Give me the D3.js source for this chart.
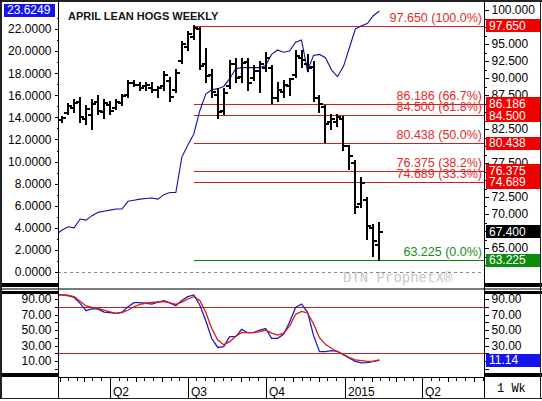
<!DOCTYPE html>
<html>
<head>
<meta charset="utf-8">
<script src="https://cdn.jsdelivr.net/npm/d3@7"></script>
<style>
  html, body { margin: 0; padding: 0; background: #fff; }
  svg { display: block; }
</style>
</head>
<body>
<svg id="chart" width="542" height="401"></svg>
<script>
// ---- Weekly OHLC, April lean hogs, one bar per week from 2014-02-04 ----
const barStart = new Date(2014, 1, 4);
const opens  = [83.8, 84.9, 85.6, 86.5, 84.0, 84.5, 86.5, 85.0, 86.0, 85.6, 86.3, 87.5, 89.3, 89.0, 88.8, 88.6, 88.2, 88.8, 89.5, 88.2,
                92.5, 94.5, 96.0, 97.2, 92.0, 90.5, 87.5, 85.2, 88.8, 92.0, 90.2, 92.3, 90.0, 91.0, 91.5, 91.5, 87.0, 88.0, 88.8, 90.4,
                93.0, 92.0, 91.6, 87.0, 85.8, 83.5, 83.6, 84.0, 80.0, 77.5, 71.5, 72.0, 68.0, 65.5];
const highs  = [84.3, 86.2, 86.8, 87.1, 85.9, 86.8, 87.5, 86.8, 86.5, 86.9, 87.6, 89.6, 89.7, 89.4, 89.3, 89.3, 88.8, 90.9, 90.1, 91.2,
                95.4, 96.9, 97.65, 97.5, 94.4, 91.2, 88.5, 88.5, 92.6, 92.9, 92.9, 92.9, 91.9, 92.4, 93.7, 91.9, 89.4, 89.7, 90.0, 94.1,
                94.1, 93.4, 92.4, 87.4, 86.0, 84.6, 84.7, 84.4, 80.1, 77.9, 75.4, 72.5, 68.4, 68.8];
const lows   = [83.4, 84.6, 85.0, 83.5, 83.1, 82.4, 84.7, 84.1, 84.7, 85.4, 86.0, 87.2, 88.8, 88.2, 88.2, 87.9, 87.2, 88.2, 86.5, 87.8,
                92.1, 94.1, 95.6, 91.2, 89.3, 87.2, 84.1, 84.6, 88.5, 89.4, 89.3, 88.2, 89.7, 87.8, 90.9, 86.3, 86.5, 87.2, 87.5, 90.1,
                91.6, 90.9, 86.6, 84.9, 80.5, 82.4, 82.9, 79.4, 76.5, 70.1, 70.9, 66.2, 63.7, 63.225];
const closes = [84.1, 85.9, 86.3, 84.2, 85.5, 86.2, 85.2, 86.3, 85.2, 86.5, 87.3, 89.2, 89.0, 88.6, 88.9, 88.3, 88.6, 90.5, 87.2, 90.8,
                95.0, 96.5, 97.3, 91.8, 90.3, 87.9, 85.0, 87.8, 92.1, 90.0, 92.2, 89.2, 91.1, 92.0, 93.0, 87.0, 88.3, 89.0, 89.8, 93.3,
                92.6, 91.5, 87.0, 86.2, 83.2, 84.0, 84.2, 80.0, 78.6, 71.0, 74.5, 68.3, 66.0, 67.4];

// ---- Left-scale study line (weekly, starts one week before the first bar) ----
const lineStart = new Date(2014, 0, 28);
const lineValues = [3.4, 3.8, 4.1, 4.0, 4.8, 4.7, 5.1, 5.4, 5.5, 5.6, 5.7, 5.7, 6.4, 6.5, 6.6, 6.65, 6.7, 6.6, 7.0, 7.2,
                    7.2, 10.4, 11.5, 12.5, 14.6, 16.1, 16.5, 16.6, 16.8, 17.5, 18.4, 18.5, 18.5, 18.5, 18.5, 18.7, 19.7, 20.1, 19.9, 20.0,
                    20.8, 21.0, 18.2, 19.6, 19.7, 19.4, 18.3, 17.7, 18.6, 20.3, 22.0, 22.3, 22.5, 23.2, 23.6249];

// ---- Stochastic %K / %D (same weekly dates as the study line) ----
const stochK = [95.5, 95.2, 94.5, 92, 84.4, 75, 77.5, 77, 73, 72.5, 71.5, 73, 80, 85.2, 85.2, 84.5, 83.5, 86, 87.8, 85,
                81.4, 88, 93, 95.2, 82.3, 62, 39, 27.5, 28.5, 41.4, 41.5, 50.9, 46.5, 46.5, 50, 52, 39.3, 39.3, 44.5, 60,
                79, 83.5, 73, 43, 22, 22, 23.5, 22.5, 18, 13.5, 9.5, 7.5, 8, 9.5, 11.14];
const stochD = [95.5, 95.2, 94.5, 93, 87, 81, 79.1, 78, 75.5, 73.5, 71.5, 72.5, 75.5, 80, 83, 84.5, 85.5, 86.3, 86.5, 85,
                83, 86, 90, 93, 88, 73, 52, 37, 31, 35, 42, 46.5, 46.5, 46.5, 48, 50, 46, 43.5, 46, 55,
                70, 74, 72, 58, 40, 31.5, 26.5, 22, 18.5, 14.5, 11.5, 10.5, 9.5, 9.5, 11.3];

// ---- Retracement levels ----
const fibValues   = [97.650, 86.186, 84.500, 80.438, 76.375, 74.689, 63.225];
const fibPercents = ["100.0%", "66.7%", "61.8%", "50.0%", "38.2%", "33.3%", "0.0%"];

// ---- Tick labels ----
const leftTicks  = d3.range(0, 23, 2);
const priceTicks = d3.range(62.5, 100.01, 2.5);
const stochTicks = [10, 30, 50, 70, 90];
const stochBands = [80, 20];
const quarterDates  = [new Date(2014, 3, 1), new Date(2014, 6, 1), new Date(2014, 9, 1), new Date(2015, 0, 1), new Date(2015, 3, 1)];
const quarterLabels = ["Q2", "Q3", "Q4", "2015", "Q2"];
const periodLabel = "1 Wk";
const titleText = "APRIL LEAN HOGS WEEKLY";

// ---- Layout ----
const W = 542, H = 401;
const PL = 58, PR = 484;          // plot left / right
const UT = 2, UB = 288;           // upper panel
const LT = 291, LB = 374;         // lower panel
const DT = 377, DB = 398;         // date strip
const sans = '"Liberation Sans", Arial, sans-serif';
const mono = '"Liberation Mono", "Courier New", monospace';
const RED_LINE = "#cc2020", RED_TEXT = "#e42a2a", RED_BOX = "#f20000";
const GREEN_LINE = "#0a800a", GREEN_TEXT = "#178c17", GREEN_BOX = "#0e8c0e";
const BLUE_BOX = "#1414ee";

const svg = d3.select("#chart");

const x = d3.scaleTime()
  .domain([new Date(2014, 0, 30, 4), new Date(2015, 5, 12, 10)])
  .range([PL, PR]);
const yPrice = d3.scaleLinear().domain([70, 100]).range([214, 10]);
const yLeft  = d3.scaleLinear().domain([0, 22]).range([272, 29]);
const yStoch = d3.scaleLinear().domain([10, 90]).range([361, 299]);

const bars = d3.range(opens.length).map(i => ({
  d: d3.timeWeek.offset(barStart, i), o: opens[i], h: highs[i], l: lows[i], c: closes[i]
}));
const lineDate = i => d3.timeWeek.offset(lineStart, i);
const lastClose = closes[closes.length - 1];

// centres of the value boxes on the right price scale (tick labels beneath them stay hidden)
const priceBoxYs = fibValues.concat([lastClose]).map(v => yPrice(v));
const hiddenUnder = (y, ys) => ys.some(b => Math.abs(b - y) < 6.5);

svg.append("rect").attr("width", W).attr("height", H).attr("fill", "#fff");

const defs = svg.append("defs");
defs.append("clipPath").attr("id", "clipUp")
  .append("rect").attr("x", PL).attr("y", UT).attr("width", PR - PL).attr("height", UB - UT);
defs.append("clipPath").attr("id", "clipLo")
  .append("rect").attr("x", PL).attr("y", LT + 1).attr("width", PR - PL).attr("height", LB - LT - 1);

// ---------- Upper panel ----------
const up = svg.append("g").attr("clip-path", "url(#clipUp)");

// watermark
up.append("text")
  .attr("x", 343).attr("y", 282)
  .attr("font-family", mono).attr("font-size", 14)
  .attr("fill", "#c6c6c6")
  .text("DTN ProphetX\u00AE");

// zero line of the left scale
up.append("line")
  .attr("x1", PL).attr("x2", PR)
  .attr("y1", yLeft(0) + 0.5).attr("y2", yLeft(0) + 0.5)
  .attr("stroke", "#8a8a8a").attr("stroke-dasharray", "3,3");

// retracement lines start at the swing-high bar
const hiIdx = highs.indexOf(d3.max(highs));
const fibX0 = x(bars[hiIdx].d);
const fibColor = i => i === fibValues.length - 1 ? GREEN_LINE : RED_LINE;
up.selectAll("line.fib").data(fibValues).join("line")
  .attr("class", "fib")
  .attr("x1", fibX0).attr("x2", PR)
  .attr("y1", d => Math.round(yPrice(d)) + 0.5).attr("y2", d => Math.round(yPrice(d)) + 0.5)
  .attr("stroke", (d, i) => fibColor(i)).attr("stroke-width", 1);

up.selectAll("text.fib").data(fibValues).join("text")
  .attr("class", "fib")
  .attr("x", 482).attr("y", d => yPrice(d) - 4)
  .attr("text-anchor", "end")
  .attr("font-family", sans).attr("font-size", 12.5)
  .attr("fill", (d, i) => i === fibValues.length - 1 ? GREEN_TEXT : RED_TEXT)
  .text((d, i) => `${d3.format(".3f")(d)} (${fibPercents[i]})`);

// left-scale study line
up.append("path")
  .datum(lineValues)
  .attr("fill", "none").attr("stroke", "#1212a8").attr("stroke-width", 1.1)
  .attr("d", d3.line().x((d, i) => x(lineDate(i))).y(d => yLeft(d)));

// OHLC bars
const gb = up.append("g").attr("stroke", "#000").attr("stroke-width", 2).attr("shape-rendering", "crispEdges");
bars.forEach(b => {
  const bx = Math.round(x(b.d));
  gb.append("line").attr("x1", bx).attr("x2", bx).attr("y1", yPrice(b.h) - 0.5).attr("y2", yPrice(b.l) + 0.5);
  gb.append("line").attr("x1", bx - 4).attr("x2", bx).attr("y1", Math.round(yPrice(b.o))).attr("y2", Math.round(yPrice(b.o)));
  gb.append("line").attr("x1", bx).attr("x2", bx + 4).attr("y1", Math.round(yPrice(b.c))).attr("y2", Math.round(yPrice(b.c)));
});

// title
svg.append("text")
  .attr("x", 68).attr("y", 20)
  .attr("font-family", sans).attr("font-size", 11).attr("font-weight", "bold")
  .attr("fill", "#151515")
  .text(titleText);

// ---------- Lower panel ----------
const lo = svg.append("g").attr("clip-path", "url(#clipLo)");
lo.selectAll("line.band").data(stochBands).join("line")
  .attr("class", "band")
  .attr("x1", PL).attr("x2", PR)
  .attr("y1", d => Math.round(yStoch(d)) + 0.5).attr("y2", d => Math.round(yStoch(d)) + 0.5)
  .attr("stroke", RED_LINE);

const stochLine = d3.line().x((d, i) => x(lineDate(i))).y(d => yStoch(d));
lo.append("path").datum(stochK)
  .attr("fill", "none").attr("stroke", "#1c1cc0").attr("stroke-width", 1.3).attr("d", stochLine);
lo.append("path").datum(stochD)
  .attr("fill", "none").attr("stroke", "#d81818").attr("stroke-width", 1.3).attr("d", stochLine);

// ---------- Frame ----------
const frame = svg.append("g").attr("shape-rendering", "crispEdges");
// separator bands in the axis columns
[[0, PL], [PR, W]].forEach(([a, b]) => {
  frame.append("rect").attr("x", a).attr("y", 283).attr("width", b - a).attr("height", 4).attr("fill", "#000");
  frame.append("rect").attr("x", a).attr("y", 291).attr("width", b - a).attr("height", 3).attr("fill", "#000");
  frame.append("rect").attr("x", a).attr("y", 373).attr("width", b - a).attr("height", 4).attr("fill", "#000");
});
frame.append("rect").attr("x", 0).attr("y", 288).attr("width", W).attr("height", 2).attr("fill", "#7a7a7a");
frame.append("line").attr("x1", PL).attr("x2", PR).attr("y1", DT + 0.5).attr("y2", DT + 0.5).attr("stroke", "#000");
frame.append("line").attr("x1", 0).attr("x2", W).attr("y1", DB + 0.5).attr("y2", DB + 0.5).attr("stroke", "#222");
frame.append("line").attr("x1", 0).attr("x2", W).attr("y1", 1).attr("y2", 1).attr("stroke", "#222").attr("stroke-width", 2);
frame.append("line").attr("x1", 1).attr("x2", 1).attr("y1", 0).attr("y2", DB + 1).attr("stroke", "#222").attr("stroke-width", 2);
frame.append("line").attr("x1", W - 1.5).attr("x2", W - 1.5).attr("y1", 0).attr("y2", DB + 1).attr("stroke", "#222");
frame.append("line").attr("x1", PL + 0.5).attr("x2", PL + 0.5).attr("y1", 0).attr("y2", DB).attr("stroke", "#000");
frame.append("line").attr("x1", PR + 0.5).attr("x2", PR + 0.5).attr("y1", 0).attr("y2", DB).attr("stroke", "#000");

// ---------- Axes ----------
function styleAxis(g) {
  g.attr("font-family", sans).attr("font-size", 12).attr("color", "#000");
  g.select(".domain").remove();
  g.selectAll(".tick line").attr("shape-rendering", "crispEdges");
}

// upper left
svg.append("g").attr("transform", `translate(${PL + 0.5},0)`)
  .call(d3.axisLeft(yLeft).tickValues(leftTicks).tickFormat(d3.format(".4f")).tickSize(4).tickPadding(3))
  .call(styleAxis);
svg.append("g").attr("transform", `translate(${PL + 0.5},0)`)
  .call(d3.axisLeft(yLeft).tickValues(d3.range(1, 24, 2)).tickFormat("").tickSize(2))
  .call(styleAxis);

// upper right
svg.append("g").attr("transform", `translate(${PR + 0.5},0)`)
  .call(d3.axisRight(yPrice).tickValues(priceTicks)
    .tickFormat(d => hiddenUnder(yPrice(d), priceBoxYs) ? "" : d3.format(".3f")(d))
    .tickSize(4).tickPadding(3))
  .call(styleAxis);
svg.append("g").attr("transform", `translate(${PR + 0.5},0)`)
  .call(d3.axisRight(yPrice).tickValues(d3.range(63.75, 100, 2.5)).tickFormat("").tickSize(2))
  .call(styleAxis);

// lower left / right
const stochMinor = d3.range(0, 100, 10);
const stochBoxYs = [yStoch(stochK[stochK.length - 1])];
svg.append("g").attr("transform", `translate(${PL + 0.5},0)`)
  .call(d3.axisLeft(yStoch).tickValues(stochMinor)
    .tickFormat(d => stochTicks.includes(d) ? d3.format(".2f")(d) : "").tickSize(4).tickPadding(3))
  .call(styleAxis);
svg.append("g").attr("transform", `translate(${PR + 0.5},0)`)
  .call(d3.axisRight(yStoch).tickValues(stochMinor)
    .tickFormat(d => stochTicks.includes(d) && !hiddenUnder(yStoch(d), stochBoxYs) ? d3.format(".2f")(d) : "")
    .tickSize(4).tickPadding(3))
  .call(styleAxis);

// date strip: small ticks on the 1st, 11th and 21st, quarter separators with labels
const dateG = svg.append("g").attr("shape-rendering", "crispEdges");
const minorDays = [];
d3.timeMonth.range(new Date(2014, 1, 1), new Date(2015, 6, 1)).forEach(m => {
  [0, 10, 20].forEach(k => minorDays.push(d3.timeDay.offset(m, k)));
});
dateG.selectAll("line.minor").data(minorDays.filter(d => x(d) > PL + 1 && x(d) < PR - 1)).join("line")
  .attr("class", "minor")
  .attr("x1", d => Math.round(x(d)) + 0.5).attr("x2", d => Math.round(x(d)) + 0.5)
  .attr("y1", DT).attr("y2", d => d.getDate() === 1 ? DT + 5 : DT + 4)
  .attr("stroke", "#000");
dateG.selectAll("line.major").data(quarterDates).join("line")
  .attr("class", "major")
  .attr("x1", d => Math.round(x(d)) + 0.5).attr("x2", d => Math.round(x(d)) + 0.5)
  .attr("y1", DT).attr("y2", DB)
  .attr("stroke", "#000");
svg.selectAll("text.q").data(quarterDates).join("text")
  .attr("class", "q")
  .attr("x", d => Math.round(x(d)) + 3).attr("y", 396)
  .attr("font-family", sans).attr("font-size", 12).attr("fill", "#000")
  .text((d, i) => quarterLabels[i]);

svg.append("text")
  .attr("x", 497).attr("y", 392)
  .attr("font-family", mono).attr("font-size", 12).attr("fill", "#000")
  .text(periodLabel);

// ---------- Value boxes ----------
function valueBox(side, yc, fill, label) {
  const h = 13;
  const bx = side === "right" ? PR + 2 : 4;
  const bw = side === "right" ? 54 : 51;
  const top = Math.max(3, yc - h / 2);
  svg.append("rect").attr("x", bx).attr("y", top).attr("width", bw).attr("height", h)
    .attr("fill", fill).attr("shape-rendering", "crispEdges");
  svg.append("text").attr("x", bx + 3).attr("y", top + h / 2 + 4.3)
    .attr("font-family", sans).attr("font-size", 12).attr("fill", "#fff")
    .text(label);
}
fibValues.forEach((v, i) => {
  valueBox("right", yPrice(v), i === fibValues.length - 1 ? GREEN_BOX : RED_BOX, d3.format(".3f")(v));
});
valueBox("right", yPrice(lastClose), "#000", d3.format(".3f")(lastClose));
valueBox("left", yLeft(lineValues[lineValues.length - 1]) - 1, BLUE_BOX, d3.format(".4f")(lineValues[lineValues.length - 1]));
valueBox("right", yStoch(stochK[stochK.length - 1]), BLUE_BOX, d3.format(".2f")(stochK[stochK.length - 1]));
</script>
</body>
</html>
